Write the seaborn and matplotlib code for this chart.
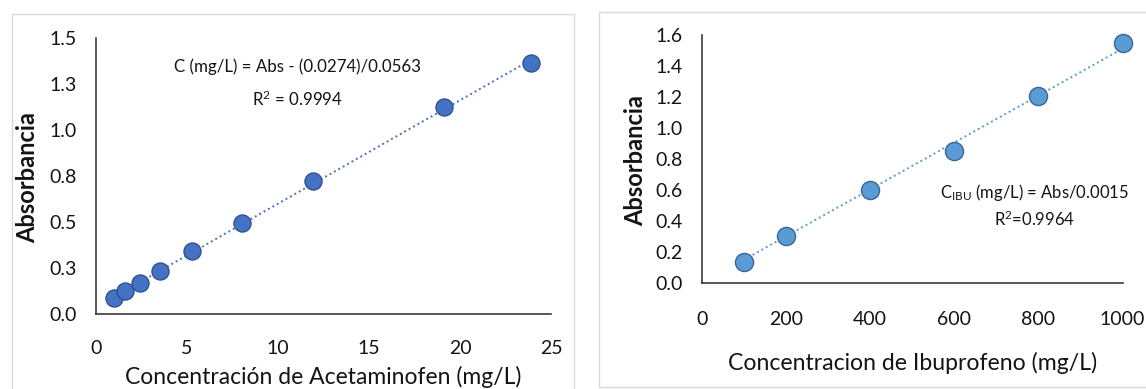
import numpy as np
import pandas as pd
import matplotlib
matplotlib.use("Agg")
import matplotlib.pyplot as plt
from matplotlib.patches import Rectangle
import seaborn as sns

# Calibration data
acet_conc = [1.0, 1.6, 2.4, 3.5, 5.3, 8.0, 11.95, 19.1, 23.9]
acet_abs = [0.085, 0.123, 0.166, 0.235, 0.343, 0.493, 0.723, 1.126, 1.363]
ibu_conc = [100, 200, 400, 600, 800, 1000]
ibu_abs = [0.138, 0.306, 0.604, 0.850, 1.208, 1.548]

acet_xticks = [0, 5, 10, 15, 20, 25]
acet_yticks = [0.0, 0.25, 0.5, 0.75, 1.0, 1.25, 1.5]
acet_yticklabels = ["0.0", "0.3", "0.5", "0.8", "1.0", "1.3", "1.5"]
ibu_xticks = [0, 200, 400, 600, 800, 1000]
ibu_yticks = [0.0, 0.2, 0.4, 0.6, 0.8, 1.0, 1.2, 1.4, 1.6]
ibu_yticklabels = ["0.0", "0.2", "0.4", "0.6", "0.8", "1.0", "1.2", "1.4", "1.6"]

acet_eq = "C (mg/L) = Abs - (0.0274)/0.0563"
acet_r2 = "R$^{2}$ = 0.9994"
ibu_eq = "C$_{\\mathrm{IBU}}$ (mg/L) = Abs/0.0015"
ibu_r2 = "R$^{2}$=0.9964"

sns.set_style("white")
plt.rcParams["font.family"] = ["Lato", "DejaVu Sans"]
plt.rcParams["mathtext.fontset"] = "custom"
plt.rcParams["mathtext.rm"] = "Lato"
plt.rcParams["mathtext.it"] = "Lato:italic"
plt.rcParams["mathtext.bf"] = "Lato:bold"

W, H = 1146, 389
fig = plt.figure(figsize=(W / 100, H / 100), dpi=100)
fig.patch.set_facecolor("white")

# chart-area borders
fig.add_artist(Rectangle((11.7 / W, -0.05), (574 - 11.7) / W, 1 - 14.3 / H + 0.05,
                         transform=fig.transFigure, fill=False,
                         edgecolor="#d9d9d9", linewidth=1.0))
fig.add_artist(Rectangle((599.3 / W, 1 - 386.7 / H), 0.6, (386.7 - 11.7) / H,
                         transform=fig.transFigure, fill=False,
                         edgecolor="#d9d9d9", linewidth=1.0))


def px_axes(x0, x1, ybot, ytop):
    return fig.add_axes([x0 / W, 1 - ybot / H, (x1 - x0) / W, (ybot - ytop) / H])


ax1 = px_axes(96, 551, 314, 38.3)
ax2 = px_axes(701.7, 1122.5, 283.3, 35)

text_color = "#141414"
axis_color = "#3a3a3a"

# Acetaminophen panel
df1 = pd.DataFrame({"conc": acet_conc, "abs": acet_abs})
sns.regplot(data=df1, x="conc", y="abs", ax=ax1, scatter=False, ci=None,
            truncate=True,
            line_kws=dict(color="#4a72b8", linewidth=1.4, linestyle=(0, (1, 1.6))))
sns.scatterplot(data=df1, x="conc", y="abs", ax=ax1, s=150, color="#4472C4",
                edgecolor="#2F528F", linewidth=1.0, zorder=3, clip_on=False)

# Ibuprofen panel, trendline through the origin
slope = float(np.dot(ibu_conc, ibu_abs) / np.dot(ibu_conc, ibu_conc))
df2 = pd.DataFrame({"conc": ibu_conc, "abs": ibu_abs})
fit2 = pd.DataFrame({"conc": [ibu_conc[0], ibu_conc[-1]],
                     "abs": [slope * ibu_conc[0], slope * ibu_conc[-1]]})
sns.lineplot(data=fit2, x="conc", y="abs", ax=ax2, color="#5B9BD5",
             linewidth=1.4, linestyle=(0, (1, 1.6)))
sns.scatterplot(data=df2, x="conc", y="abs", ax=ax2, s=170, color="#5B9BD5",
                edgecolor="#3A6597", linewidth=1.0, zorder=3, clip_on=False)

for ax, xt, yt, ytl, xlim, ylim in [
    (ax1, acet_xticks, acet_yticks, acet_yticklabels, (0, 25), (0, 1.5)),
    (ax2, ibu_xticks, ibu_yticks, ibu_yticklabels, (0, 1000), (0, 1.6)),
]:
    ax.set_xlim(*xlim)
    ax.set_ylim(*ylim)
    ax.set_xticks(xt)
    ax.set_xticklabels([str(v) for v in xt])
    ax.set_yticks(yt)
    ax.set_yticklabels(ytl)
    ax.tick_params(axis="both", length=0, labelsize=14, colors=text_color)
    ax.tick_params(axis="y", pad=14)
    for side in ("top", "right"):
        ax.spines[side].set_visible(False)
    for side in ("left", "bottom"):
        ax.spines[side].set_color(axis_color)
        ax.spines[side].set_linewidth(1.2)
    ax.set_facecolor("white")

ax1.tick_params(axis="x", pad=19)
ax2.tick_params(axis="x", pad=20)

ax1.set_xlabel("Concentración de Acetaminofen (mg/L)", fontsize=16.5, color=text_color)
ax1.set_ylabel("Absorbancia", fontsize=17, fontweight="bold", color=text_color)
ax2.set_xlabel("Concentracion de Ibuprofeno (mg/L)", fontsize=16.6, color=text_color)
ax2.set_ylabel("Absorbancia", fontsize=17, fontweight="bold", color=text_color)

ax1.xaxis.label.set_va("center")
ax1.xaxis.set_label_coords(0.5, (314 - 377) / 275.7)
ax1.yaxis.label.set_va("center")
ax1.yaxis.set_label_coords((28 - 96) / 455, (314 - 178) / 275.7)
ax2.xaxis.label.set_va("center")
ax2.xaxis.set_label_coords(0.5, (283.3 - 363) / 248.3)
ax2.yaxis.label.set_va("center")
ax2.yaxis.set_label_coords((636 - 701.7) / 420.8, (283.3 - 161) / 248.3)

ax1.text(11.08, 1.344, acet_eq, ha="center", va="center", fontsize=12.2, color=text_color)
ax1.text(11.08, 1.166, acet_r2, ha="center", va="center", fontsize=12.2, color=text_color)
ax2.text(790, 0.588, ibu_eq, ha="center", va="center", fontsize=12, color=text_color)
ax2.text(790, 0.414, ibu_r2, ha="center", va="center", fontsize=12, color=text_color)

fig.savefig("out.png", dpi=100, facecolor="white")
